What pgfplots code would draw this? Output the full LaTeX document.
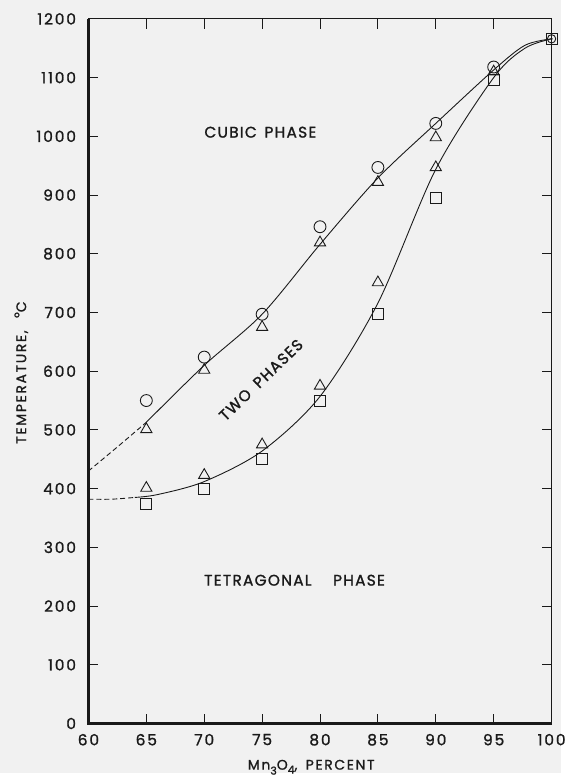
\documentclass[border=0pt]{standalone}
\usepackage{fontspec}
\setmainfont{Poppins}
\newfontfamily\lett[LetterSpace=12, FakeBold=1.2]{Poppins}
\newfontfamily\reg[LetterSpace=8, FakeBold=1.3]{Poppins}
\usepackage{pgfplots}
\pgfplotsset{compat=1.18}
\definecolor{bg}{HTML}{F1F1F1}
\definecolor{ink}{HTML}{1A1A1A}
\begin{document}
\begin{tikzpicture}
\fill[bg] (-89pt,-50pt) rectangle (475pt,728pt);
\begin{axis}[
  scale only axis, width=466pt, height=709pt,
  xmin=60, xmax=100, ymin=0, ymax=1200,
  xtick={60,65,...,100}, ytick={0,100,...,1200},
  axis line style={draw=none},
  tick align=inside, major tick length=10pt,
  tick style={ink, line width=1pt},
  clip=false,
  /pgf/number format/1000 sep={},
  /pgf/number format/assume math mode=true,
  ticklabel style={font=\fontsize{15.5}{15.5}\lett, text=ink},
  xticklabel style={yshift=-7pt},
  yticklabel style={xshift=-9pt},
  xlabel={Mn\raisebox{-5pt}{\fontsize{11}{11}\selectfont 3}O\raisebox{-4pt}{\fontsize{11}{11}\selectfont 4},\hspace{0.6em}PERCENT},
  xlabel style={font=\fontsize{14}{14}\lett, text=ink, at={(axis description cs:0.481,-0.0655)}, anchor=base},
  ylabel={TEMPERATURE,\hspace{0.9em}\raisebox{2pt}{°}C},
  ylabel style={font=\fontsize{14}{14}\lett, text=ink, at={(axis description cs:-0.145,0.498)}, anchor=center},
]
% boundary lines
\draw[ink, line width=2.4pt] (rel axis cs:0,1) -- (rel axis cs:0,0) -- (rel axis cs:1,0);
\draw[ink, line width=1.1pt] (rel axis cs:0,1) -- (rel axis cs:1,1) -- (rel axis cs:1,0);

% upper curve
\addplot[ink, line width=0.9pt, dash pattern=on 5pt off 3pt, smooth] coordinates {(60,430) (62.5,471) (65,513)};
\addplot[ink, line width=0.9pt, smooth] coordinates {
 (65,513) (70,610) (75,697) (80,816) (85,929) (90,1022) (95,1113) (97.7,1155) (100,1166)};
% lower curve
\addplot[ink, line width=0.9pt, dash pattern=on 5pt off 3pt, smooth] coordinates {(60,382) (62,382) (64,385)};
\addplot[ink, line width=0.9pt, smooth] coordinates {
 (64,385) (66,390) (70,412) (75,464) (80,557) (85,716) (90,944) (95,1100) (97.7,1150) (100,1166)};

% circles
\addplot[only marks, mark=o, mark size=6pt, mark options={draw=ink, line width=0.9pt}] coordinates {
 (65,550) (70,624) (75,697) (80,846) (85,947) (90,1022) (95,1118)};
% triangles
\addplot[only marks, mark=triangle, mark size=6.5pt, mark options={draw=ink, line width=0.9pt}] coordinates {
 (65,501) (70,602) (75,675) (80,819) (85,922) (90,998) (95,1110)
 (65,401) (70,423) (75,475) (80,575) (85,751) (90,947)};
% squares
\addplot[only marks, mark=square, mark size=5.5pt, mark options={draw=ink, line width=0.9pt}] coordinates {
 (65,374) (70,399) (75,450) (80,550) (85,697) (90,895) (95,1096) (100,1166)};
\addplot[only marks, mark=o, mark size=4.2pt, mark options={draw=ink, line width=0.9pt}] coordinates {(100,1166)};
\addplot[only marks, mark=*, mark size=0.9pt, mark options={draw=ink, fill=ink}] coordinates {(100,1166)};

% region labels
\node[font=\fontsize{15.5}{15.5}\reg, text=ink] at (axis cs:74.85,1007) {CUBIC\hspace{0.5em}PHASE};
\node[font=\fontsize{15.5}{15.5}\reg, text=ink, rotate=44] at (axis cs:74.9,585) {TWO\hspace{0.6em}PHASES};
\node[font=\fontsize{15.5}{15.5}\reg, text=ink] at (axis cs:77.8,244) {TETRAGONAL\hspace{1.4em}PHASE};
\end{axis}
\end{tikzpicture}
\end{document}
